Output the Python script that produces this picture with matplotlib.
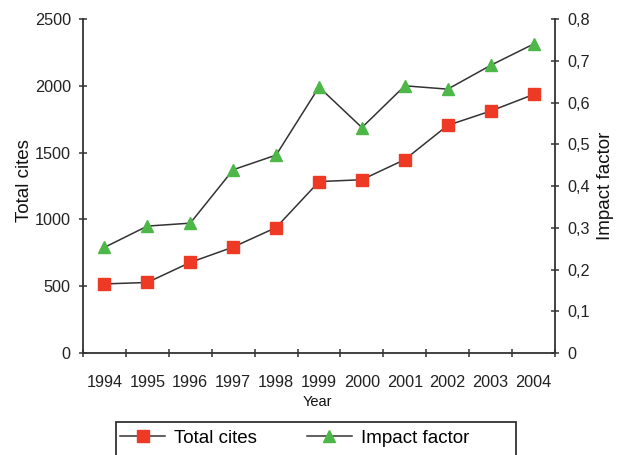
import matplotlib
matplotlib.use("Agg")
import matplotlib.pyplot as plt
from matplotlib.patches import Rectangle

plt.rcParams["font.family"] = ["Liberation Sans", "DejaVu Sans"]

# ---- data ----
years = ["1994", "1995", "1996", "1997", "1998", "1999",
         "2000", "2001", "2002", "2003", "2004"]
total_cites = [517, 528, 678, 793, 939, 1283, 1297, 1448, 1704, 1811, 1935]
impact_factor = [0.253, 0.304, 0.311, 0.439, 0.474, 0.637,
                 0.540, 0.640, 0.632, 0.689, 0.740]

cites_ticks = [0, 500, 1000, 1500, 2000, 2500]
if_ticks = [0, 0.1, 0.2, 0.3, 0.4, 0.5, 0.6, 0.7, 0.8]
if_labels = ["0", "0,1", "0,2", "0,3", "0,4", "0,5", "0,6", "0,7", "0,8"]

RED = "#ee3a24"
GREEN = "#4db848"
DARK = "#333333"
LINE = "#333333"

fig = plt.figure(figsize=(6.23, 4.55), dpi=100)
W, H = 623, 455
x0, x1, y0, y1 = 83, 555, 353, 19
ax = fig.add_axes([x0 / W, 1 - y0 / H, (x1 - x0) / W, (y0 - y1) / H])
ax2 = ax.twinx()

xs = list(range(len(years)))
l1, = ax.plot(xs, total_cites, color=LINE, lw=1.1, marker="s", ms=8,
              mfc=RED, mec=RED, label="Total cites", zorder=3)
l2, = ax2.plot(xs, impact_factor, color=LINE, lw=1.1, marker="^", ms=9,
               mfc=GREEN, mec=GREEN, label="Impact factor", zorder=3)

ax.set_xlim(-0.5, len(years) - 0.5)
ax.set_ylim(0, 2500)
ax2.set_ylim(0, 0.8)

# category axis: labels centred, tick marks on the boundaries
ax.set_xticks(xs)
ax.set_xticklabels(years)
ax.set_xticks([i - 0.5 for i in range(len(years) + 1)], minor=True)
ax.tick_params(axis="x", which="major", length=0, pad=16, labelsize=11.7,
               labelcolor="#222222")
ax.tick_params(axis="x", which="minor", direction="inout", length=5.5,
               width=1.1, color=DARK)

ax.set_yticks(cites_ticks)
ax.tick_params(axis="y", direction="inout", length=5.5, width=1.1,
               color=DARK, pad=6, labelsize=11.7, labelcolor="#222222")
ax2.set_yticks(if_ticks)
ax2.set_yticklabels(if_labels)
ax2.tick_params(axis="y", direction="inout", length=5.5, width=1.1,
                color=DARK, pad=6, labelsize=11.7, labelcolor="#222222")

for a in (ax, ax2):
    a.spines["top"].set_visible(False)
    for s in ("left", "right", "bottom"):
        a.spines[s].set_color(DARK)
        a.spines[s].set_linewidth(1.3)
ax.spines["right"].set_visible(False)
ax2.spines["left"].set_visible(False)
ax2.spines["bottom"].set_visible(False)

ax.set_ylabel("Total cites", fontsize=13.5, color="#111111")
ax.yaxis.set_label_coords(-0.105, 0.515)
ax2.set_ylabel("Impact factor", fontsize=13.5, color="#111111")
ax2.yaxis.set_label_coords(1.09, 0.5)
ax.set_xlabel("Year", fontsize=10.5, color="#111111")
ax.xaxis.set_label_coords(0.496, -0.125)

# legend with a frame running off the bottom edge
fig.patches.append(Rectangle((116 / W, -0.05), 400 / W, 0.05 + 1 - 422 / H,
                             transform=fig.transFigure, fill=False,
                             ec=DARK, lw=1.3))
fig.legend(handles=[l1, l2], loc="center left",
           bbox_to_anchor=(120 / W, 1 - 438 / H), ncol=2, frameon=False,
           fontsize=13.5, handlelength=2.4, handletextpad=0.5,
           columnspacing=2.65, borderpad=0, borderaxespad=0)

fig.savefig("out.png", dpi=100)
